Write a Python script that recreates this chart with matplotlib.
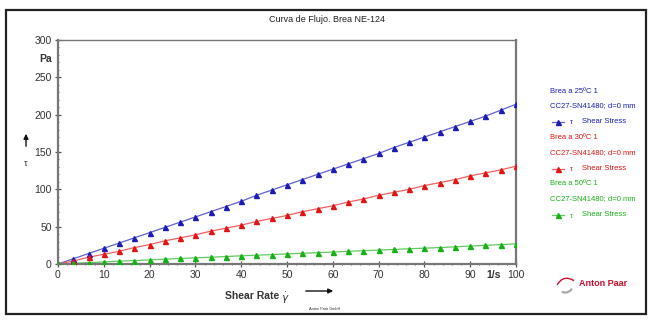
import matplotlib.pyplot as plt
from matplotlib.patches import Rectangle, FancyArrowPatch
from matplotlib.ticker import MultipleLocator

plt.rcParams["font.family"] = ["Liberation Sans", "DejaVu Sans"]

# shear rate points, 1/s
shear_rate = [0, 3.33, 6.67, 10, 13.33, 16.67, 20, 23.33, 26.67, 30, 33.33,
              36.67, 40, 43.33, 46.67, 50, 53.33, 56.67, 60, 63.33, 66.67,
              70, 73.33, 76.67, 80, 83.33, 86.67, 90, 93.33, 96.67, 100]

# shear stress, Pa
stress_25 = [0, 7, 14, 21, 28, 35, 42, 49, 56, 63, 70, 77, 84, 92, 99, 106,
             113, 120, 127, 134, 141, 148, 156, 163, 170, 177, 184, 191, 198,
             206, 214]
stress_30 = [0, 4, 9, 13, 17, 22, 26, 31, 35, 39, 44, 48, 52, 57, 61, 65, 70,
             74, 78, 83, 87, 92, 96, 100, 105, 109, 113, 118, 122, 126, 131]
stress_50 = [0, 0.8, 1.8, 2.8, 3.8, 4.6, 5.5, 6.5, 7.4, 8.2, 9.1, 10, 11,
             11.8, 12.6, 13.5, 14.4, 15.2, 16, 17, 17.8, 18.6, 19.5, 20.4,
             21.2, 22, 23, 24, 25, 26, 27]

series = [
    ("Brea a 25ºC 1", stress_25, "#1c1cb4", "#6060d0"),
    ("Brea a 30ºC 1", stress_30, "#e01515", "#f06060"),
    ("Brea a 50ºC 1", stress_50, "#18b018", "#60c860"),
]

W, H = 650, 321
fig = plt.figure(figsize=(6.5, 3.21), dpi=100)


def fx(px):
    return px / W


def fy(py):
    return 1 - py / H


# outer frame
fig.patches.append(Rectangle((fx(6), fy(314)), fx(640), (314 - 10) / H,
                             transform=fig.transFigure, fill=False,
                             edgecolor="#222222", linewidth=1.6))

ax = fig.add_axes([fx(58), fy(264), fx(458), (264 - 40) / H])
for name, vals, mcol, lcol in series:
    ax.plot(shear_rate, vals, color=lcol, linewidth=0.9, zorder=2)
    ax.plot(shear_rate, vals, linestyle="none", marker="^", markersize=3.6,
            color=mcol, zorder=3)

ax.set_xlim(0, 100)
ax.set_ylim(0, 300)
ax.xaxis.set_major_locator(MultipleLocator(10))
ax.xaxis.set_minor_locator(MultipleLocator(2))
ax.yaxis.set_major_locator(MultipleLocator(50))
ax.yaxis.set_minor_locator(MultipleLocator(10))
for side in ax.spines:
    ax.spines[side].set_color("#777777")
ax.spines["left"].set_linewidth(1.6)
ax.spines["bottom"].set_linewidth(1.6)
ax.spines["top"].set_linewidth(1.0)
ax.spines["right"].set_linewidth(1.6)
ax.tick_params(which="major", direction="inout", length=5, width=0.9,
               color="#555555", labelsize=7.5, labelcolor="#333333", pad=2)
ax.tick_params(which="minor", direction="inout", length=2, width=0.6,
               color="#555555")

fig.text(fx(327), fy(19), "Curva de Flujo. Brea NE-124", fontsize=6.5,
         ha="center", va="center", color="#222222")
fig.text(fx(46), fy(59), "Pa", fontsize=7.5, fontweight="bold",
         ha="center", va="center", color="#333333")
fig.text(fx(26), fy(164), "τ", fontsize=6.5, ha="center", va="center",
         color="#333333")
fig.patches.append(FancyArrowPatch((fx(26), fy(149)), (fx(26), fy(131)),
                                   transform=fig.transFigure,
                                   arrowstyle="-|>", mutation_scale=7,
                                   color="#111111", linewidth=1.0))
fig.text(fx(252), fy(296), "Shear Rate", fontsize=7.5, fontweight="bold",
         ha="center", va="center", color="#333333")
fig.text(fx(285), fy(298), r"$\dot{\gamma}$", fontsize=7.5,
         ha="center", va="center", color="#333333")
fig.patches.append(FancyArrowPatch((fx(303), fy(291)), (fx(336), fy(291)),
                                   transform=fig.transFigure,
                                   arrowstyle="-|>", mutation_scale=7,
                                   color="#111111", linewidth=1.0))
fig.text(fx(494), fy(275), "1/s", fontsize=7.5, fontweight="bold",
         ha="center", va="center", color="#333333")
fig.text(fx(325), fy(309), "Anton Paar GmbH", fontsize=2.8,
         ha="center", va="center", color="#333333")

# legend block
rows = [91.5, 105.5, 121.5, 137.5, 152.5, 168.5, 183.5, 198.5, 214.5]
for i, (name, vals, mcol, lcol) in enumerate(series):
    y0, y1, y2 = rows[3 * i], rows[3 * i + 1], rows[3 * i + 2]
    fig.text(fx(550), fy(y0), name, fontsize=5.5, color=mcol,
             ha="left", va="center")
    fig.text(fx(550), fy(y1), "CC27-SN41480; d=0 mm", fontsize=5.5,
             color=mcol, ha="left", va="center")
    fig.add_artist(plt.Line2D([fx(552), fx(564)], [fy(y2), fy(y2)],
                              color=lcol, linewidth=0.9,
                              transform=fig.transFigure))
    fig.add_artist(plt.Line2D([fx(558)], [fy(y2)], marker="^",
                              markersize=3.6, color=mcol,
                              transform=fig.transFigure))
    fig.text(fx(571), fy(y2 + 1.5), "τ", fontsize=5, color=mcol,
             ha="center", va="center")
    fig.text(fx(582), fy(y2), "Shear Stress", fontsize=5.5, color=mcol,
             ha="left", va="center")

# logo
fig.text(fx(603), fy(284), "Anton Paar", fontsize=6.5, fontweight="bold",
         color="#c8102e", ha="center", va="center")
fig.patches.append(FancyArrowPatch((fx(556), fy(287)), (fx(576), fy(282)),
                                   transform=fig.transFigure,
                                   connectionstyle="arc3,rad=-0.6",
                                   arrowstyle="-", color="#c8102e",
                                   linewidth=1.0))
fig.patches.append(FancyArrowPatch((fx(560), fy(291)), (fx(573), fy(287)),
                                   transform=fig.transFigure,
                                   connectionstyle="arc3,rad=0.5",
                                   arrowstyle="-", color="#aaaaaa",
                                   linewidth=1.6))

fig.savefig("out.png", dpi=100)
